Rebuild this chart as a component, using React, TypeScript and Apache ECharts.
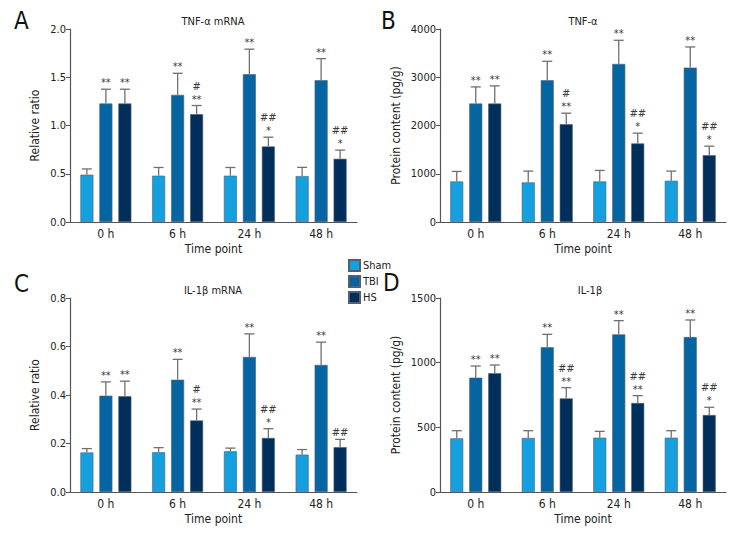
import React, { useEffect, useRef } from "react";
import * as echarts from "echarts";

const categories = ["0 h", "6 h", "24 h", "48 h"];
const groupNames = ["Sham", "TBI", "HS"];
const groupColors = ["#14a0df", "#0565a2", "#002f5c"];

// Panel A: TNF-α mRNA
const aSham = [0.49, 0.48, 0.48, 0.476];
const aTbi = [1.228, 1.317, 1.531, 1.469];
const aHs = [1.228, 1.117, 0.783, 0.655];
const aShamSd = [0.06, 0.085, 0.085, 0.09];
const aTbiSd = [0.148, 0.224, 0.26, 0.224];
const aHsSd = [0.148, 0.09, 0.096, 0.09];
const aTbiMarks = ["**", "**", "**", "**"];
const aHsMarks = ["**", "#\n**", "##\n*", "##\n*"];

// Panel B: TNF-α protein
const bSham = [841, 821, 841, 855];
const bTbi = [2455, 2938, 3276, 3200];
const bHs = [2455, 2028, 1628, 1386];
const bShamSd = [207, 234, 228, 200];
const bTbiSd = [345, 393, 490, 428];
const bHsSd = [366, 227, 213, 186];
const bTbiMarks = ["**", "**", "**", "**"];
const bHsMarks = ["**", "#\n**", "##\n*", "##\n*"];

// Panel C: IL-1β mRNA
const cSham = [0.163, 0.164, 0.168, 0.154];
const cTbi = [0.397, 0.463, 0.557, 0.524];
const cHs = [0.395, 0.295, 0.223, 0.185];
const cShamSd = [0.016, 0.019, 0.013, 0.021];
const cTbiSd = [0.057, 0.084, 0.095, 0.094];
const cHsSd = [0.062, 0.047, 0.038, 0.032];
const cTbiMarks = ["**", "**", "**", "**"];
const cHsMarks = ["**", "#\n**", "##\n*", "##"];

// Panel D: IL-1β protein
const dSham = [415, 418, 420, 420];
const dTbi = [884, 1119, 1219, 1198];
const dHs = [918, 724, 688, 595];
const dShamSd = [59, 56, 49, 54];
const dTbiSd = [90, 100, 106, 132];
const dHsSd = [64, 83, 57, 60];
const dTbiMarks = ["**", "**", "**", "**"];
const dHsMarks = ["**", "##\n**", "##\n**", "##\n*"];

const panelTitles = ["TNF-α mRNA", "TNF-α", "IL-1β mRNA", "IL-1β"];
const panelLetters = ["A", "B", "C", "D"];
const yNames = ["Relative ratio", "Protein content (pg/g)", "Relative ratio", "Protein content (pg/g)"];
const yMax = [2, 4000, 0.8, 1500];
const yInterval = [0.5, 1000, 0.2, 500];
const yDecimals = [1, 0, 1, 0];
const xAxisName = "Time point";

const FONT = "'DejaVu Sans Condensed', 'Liberation Sans Narrow', 'Roboto', sans-serif";

const grids = [
  { left: 70, top: 29, width: 287, height: 193 },
  { left: 440, top: 29, width: 286, height: 193 },
  { left: 70, top: 298, width: 287, height: 194 },
  { left: 440, top: 298, width: 286, height: 194 },
];
const titlePos = [
  { x: 213, y: 16 },
  { x: 583, y: 16 },
  { x: 213, y: 285 },
  { x: 590, y: 285 },
];
const letterPos = [
  { x: 14, y: 9 },
  { x: 381, y: 9 },
  { x: 14, y: 272 },
  { x: 383, y: 271 },
];
const yNameGap = [29, 38, 29, 38];

const BAR_W = 13;
const BAR_STEP = 19;

function errSeries(gi: number, k: number, means: number[], sds: number[], marks: string[] | null) {
  const offset = (k - 1) * BAR_STEP;
  return {
    type: "custom",
    xAxisIndex: gi,
    yAxisIndex: gi,
    z: 5,
    silent: true,
    data: means.map((m, i) => [i, m, sds[i]]),
    encode: { x: 0, y: 1 },
    renderItem: (params: any, api: any) => {
      const i = api.value(0);
      const m = api.value(1);
      const s = api.value(2);
      const base = api.coord([i, m]);
      const top = api.coord([i, m + s]);
      const x = base[0] + offset;
      const children: any[] = [
        {
          type: "line",
          shape: { x1: x, y1: base[1], x2: x, y2: top[1] },
          style: { stroke: "#707070", lineWidth: 1.3 },
        },
        {
          type: "line",
          shape: { x1: x - 5, y1: top[1], x2: x + 5, y2: top[1] },
          style: { stroke: "#707070", lineWidth: 1.3 },
        },
      ];
      if (marks) {
        const lines = marks[params.dataIndex].split("\n").reverse();
        lines.forEach((t, li) => {
          children.push({
            type: "text",
            x: x,
            y: top[1] - 1 - li * 13,
            style: {
              text: t,
              fill: "#3a3a3a",
              font: `11px ${FONT}`,
              align: "center",
              verticalAlign: "bottom",
            },
          });
        });
      }
      return { type: "group", children };
    },
  };
}

export default function App() {
  const ref = useRef<HTMLDivElement>(null);
  useEffect(() => {
    if (!ref.current) return;
    const chart = echarts.init(ref.current, null, { renderer: "svg" });
    const data = [
      [aSham, aTbi, aHs, aShamSd, aTbiSd, aHsSd, aTbiMarks, aHsMarks],
      [bSham, bTbi, bHs, bShamSd, bTbiSd, bHsSd, bTbiMarks, bHsMarks],
      [cSham, cTbi, cHs, cShamSd, cTbiSd, cHsSd, cTbiMarks, cHsMarks],
      [dSham, dTbi, dHs, dShamSd, dTbiSd, dHsSd, dTbiMarks, dHsMarks],
    ] as any[];

    const series: any[] = [];
    data.forEach((d, gi) => {
      for (let k = 0; k < 3; k++) {
        series.push({
          type: "bar",
          name: groupNames[k],
          xAxisIndex: gi,
          yAxisIndex: gi,
          data: d[k],
          barWidth: BAR_W,
          barGap: "46%",
          itemStyle: { color: groupColors[k], borderColor: "#55606b", borderWidth: 0.6 },
        });
      }
      for (let k = 0; k < 3; k++) {
        series.push(errSeries(gi, k, d[k], d[3 + k], k === 0 ? null : d[5 + k]));
      }
    });

    const option: any = {
      animation: false,
      backgroundColor: "#ffffff",
      textStyle: { fontFamily: FONT },
      grid: grids.map((g) => ({ ...g, containLabel: false })),
      xAxis: grids.map((_, gi) => ({
        type: "category",
        gridIndex: gi,
        data: categories,
        name: xAxisName,
        nameLocation: "middle",
        nameGap: 21,
        nameTextStyle: { fontSize: 12, color: "#222", fontFamily: FONT },
        axisLine: { lineStyle: { color: "#555", width: 1.2 } },
        axisTick: { show: false },
        axisLabel: { fontSize: 12, color: "#222", margin: 6, fontFamily: FONT },
      })),
      yAxis: grids.map((_, gi) => ({
        type: "value",
        gridIndex: gi,
        min: 0,
        max: yMax[gi],
        interval: yInterval[gi],
        name: yNames[gi],
        nameLocation: "middle",
        nameGap: yNameGap[gi],
        nameTextStyle: { fontSize: 12, color: "#222", fontFamily: FONT },
        axisLine: { show: true, lineStyle: { color: "#555", width: 1.2 } },
        axisTick: { show: true, length: 4, lineStyle: { color: "#555" } },
        splitLine: { show: false },
        axisLabel: {
          fontSize: 11,
          color: "#222",
          margin: 4,
          fontFamily: FONT,
          formatter: (v: number) => v.toFixed(yDecimals[gi]),
        },
      })),
      legend: {
        data: groupNames,
        orient: "vertical",
        left: 343,
        top: 254,
        itemWidth: 11,
        itemHeight: 11,
        itemGap: 3,
        icon: "rect",
        textStyle: { fontSize: 11, color: "#222", fontFamily: FONT, padding: [0, 0, 0, -2] },
      },
      graphic: [
        ...panelTitles.map((t, gi) => ({
          type: "text",
          x: titlePos[gi].x,
          y: titlePos[gi].y,
          style: { text: t, font: `11px ${FONT}`, fill: "#222", align: "center", verticalAlign: "top" },
        })),
        ...panelLetters.map((t, gi) => ({
          type: "text",
          x: letterPos[gi].x,
          y: letterPos[gi].y,
          style: { text: t, font: `24px ${FONT}`, fill: "#111", align: "left", verticalAlign: "top" },
        })),
      ],
      series,
    };
    chart.setOption(option);
    return () => chart.dispose();
  }, []);
  return (
    <div
      ref={ref}
      style={{ position: "fixed", left: 0, top: 0, width: 756, height: 540, background: "#fff" }}
    />
  );
}
